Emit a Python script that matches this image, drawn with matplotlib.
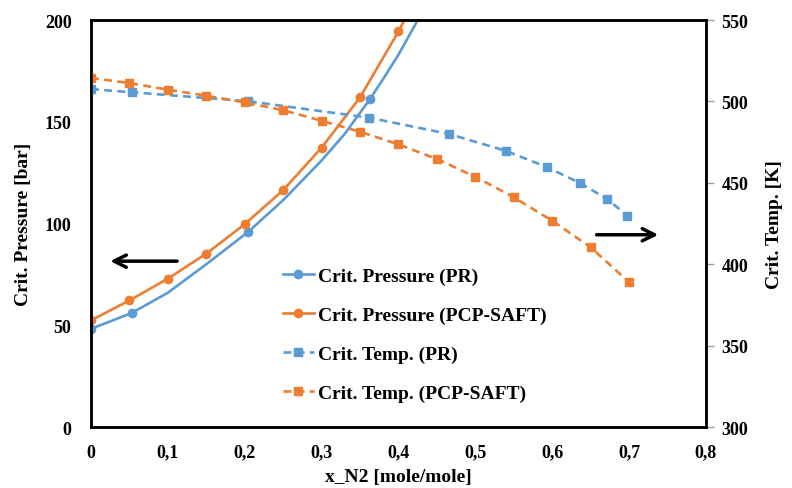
# critical pressure / critical temperature vs x_N2 (PR and PCP-SAFT)
import matplotlib
matplotlib.use('Agg')
import matplotlib.pyplot as plt

# critical pressure, PR (line points)
x_p_pr = [0, 0.025, 0.0537, 0.1, 0.15, 0.2045, 0.25, 0.3, 0.33, 0.363, 0.38, 0.4, 0.42, 0.44]
p_pr = [48.3, 51.9, 56.2, 66, 80, 95.9, 111.5, 131, 144, 161.2, 171, 183, 196.5, 211]
p_pr_marks = [0, 2, 5, 9]  # which points carry a marker

# critical pressure, PCP-SAFT
x_p_saft = [0, 0.05, 0.1, 0.15, 0.2, 0.25, 0.3, 0.35, 0.4, 0.42]
p_saft = [52.4, 62.2, 72.9, 85.2, 99.7, 116.4, 137.3, 162, 194.4, 208.8]
p_saft_marks = [0, 1, 2, 3, 4, 5, 6, 7, 8]

# critical temperature, PR
x_t_pr = [0, 0.0537, 0.2045, 0.362, 0.4657, 0.5394, 0.5936, 0.636, 0.6716, 0.6977]
t_pr = [507.6, 505.6, 500.1, 490.0, 480.0, 469.7, 459.5, 449.9, 440.0, 429.8]

# critical temperature, PCP-SAFT
x_t_saft = [0, 0.05, 0.1, 0.15, 0.2, 0.25, 0.3, 0.35, 0.4, 0.45, 0.5, 0.55, 0.6, 0.65, 0.7]
t_saft = [514.4, 511.3, 507.2, 503.5, 499.4, 494.6, 488.1, 481.4, 473.6, 464.6,
          453.7, 441.1, 426.7, 410.4, 388.9]

x_ticks = [0, 0.1, 0.2, 0.3, 0.4, 0.5, 0.6, 0.7, 0.8]
x_ticklabels = ['0', '0,1', '0,2', '0,3', '0,4', '0,5', '0,6', '0,7', '0,8']

blue = '#5B9BD5'
orange = '#ED7D31'

plt.rcParams['font.family'] = ['Liberation Serif', 'DejaVu Serif']
plt.rcParams['font.weight'] = 'bold'
fs = 13
fs_lab = 14

fig = plt.figure(figsize=(7.92, 4.89), dpi=100)
ax = fig.add_axes([0.1149, 0.1247, 0.7765, 0.8323])
ax2 = ax.twinx()

l1, = ax.plot(x_p_pr, p_pr, color=blue, lw=1.9, marker='o', ms=6,
              markevery=p_pr_marks, label='Crit. Pressure (PR)')
l2, = ax.plot(x_p_saft, p_saft, color=orange, lw=1.9, marker='o', ms=6,
              markevery=p_saft_marks, label='Crit. Pressure (PCP-SAFT)')
l3, = ax2.plot(x_t_pr, t_pr, color=blue, lw=1.9, ls='--', dashes=(3, 2),
               marker='s', ms=5.5, label='Crit. Temp. (PR)')
l4, = ax2.plot(x_t_saft, t_saft, color=orange, lw=1.9, ls='--', dashes=(3, 2),
               marker='s', ms=5.5, label='Crit. Temp. (PCP-SAFT)')

ax.set_xlim(0, 0.8)
ax.set_ylim(0, 200)
ax2.set_ylim(300, 550)
ax.set_xticks(x_ticks)
ax.set_xticklabels(x_ticklabels)
ax.set_yticks([0, 50, 100, 150, 200])
ax2.set_yticks([300, 350, 400, 450, 500, 550])

ax.tick_params(axis='both', length=0, labelsize=fs, pad=12)
ax.tick_params(axis='y', pad=14)
ax2.tick_params(axis='y', length=6, color='#a0a0a0', width=1, labelsize=fs, pad=5)

for s in ax2.spines.values():
    s.set_linewidth(1.8)
    s.set_color('black')
for s in ax.spines.values():
    s.set_linewidth(1.8)

ax.set_xlabel('x_N2 [mole/mole]', fontsize=fs_lab, fontweight='bold', labelpad=5)
ax.set_ylabel('Crit. Pressure [bar]', fontsize=fs_lab, fontweight='bold', labelpad=9)
ax2.set_ylabel('Crit. Temp. [K]', fontsize=fs_lab, fontweight='bold', labelpad=13)

# arrows pointing to the axis each group belongs to
ax.annotate('', xy=(0.025, 81.5), xytext=(0.112, 81.5),
            arrowprops=dict(arrowstyle='->', color='black', lw=2.5,
                            mutation_scale=22, shrinkA=0, shrinkB=0))
ax2.annotate('', xy=(0.738, 418.1), xytext=(0.6577, 418.1),
             arrowprops=dict(arrowstyle='->', color='black', lw=2.5,
                             mutation_scale=22, shrinkA=0, shrinkB=0))

ax2.legend(handles=[l1, l2, l3, l4], loc='upper left',
           bbox_to_anchor=(0.335, 0.488), bbox_transform=fig.transFigure,
           frameon=False, handlelength=1.6, handletextpad=0.2,
           labelspacing=1.1, prop={'weight': 'bold', 'size': fs_lab})

fig.savefig('out.png', dpi=100)
